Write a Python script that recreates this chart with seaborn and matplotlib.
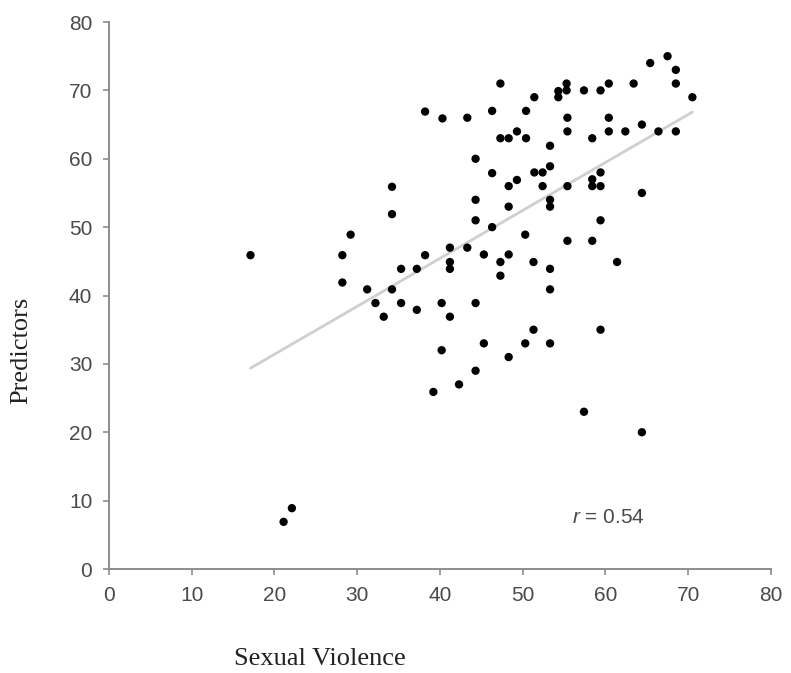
import numpy as np
import pandas as pd
import matplotlib
matplotlib.use("Agg")
import matplotlib.pyplot as plt
import seaborn as sns

# ==========================
# DATOS
# ==========================
sexual_violence = [
    17.1, 21.1, 22.1, 28.2, 28.2, 29.2, 31.2, 32.2, 33.2, 34.2,
    34.2, 34.2, 35.3, 35.3, 37.2, 37.2, 38.2, 38.2, 39.2, 40.3,
    40.2, 40.2, 41.2, 41.2, 41.2, 41.2, 42.3, 43.3, 43.3, 44.3,
    44.3, 44.3, 44.3, 44.3, 45.3, 45.3, 46.3, 46.3, 46.3, 47.3,
    47.3, 47.3, 47.3, 48.3, 48.3, 48.3, 48.3, 48.3, 49.3, 49.3,
    50.4, 50.4, 50.3, 50.3, 51.4, 51.4, 51.3, 51.3, 52.4, 52.4,
    53.3, 53.3, 53.3, 53.3, 53.3, 53.3, 53.3, 54.3, 54.3, 55.3,
    55.3, 55.4, 55.4, 55.4, 55.4, 57.4, 57.4, 58.4, 58.4, 58.4,
    58.4, 59.4, 59.4, 59.4, 59.4, 59.4, 60.4, 60.4, 60.4, 61.4,
    62.4, 63.4, 64.4, 64.4, 64.4, 65.4, 66.4, 67.5, 68.5, 68.5,
    68.5, 70.5,
]
predictors = [
    45.9, 6.9, 8.9, 45.9, 41.9, 48.9, 40.9, 38.9, 36.9, 55.9,
    51.9, 40.9, 43.9, 38.9, 43.9, 37.9, 66.9, 45.9, 25.9, 65.9,
    38.9, 32.0, 47.0, 44.9, 43.9, 36.9, 27.0, 66.0, 47.0, 60.0,
    54.0, 51.0, 38.9, 29.0, 46.0, 33.0, 67.0, 57.9, 50.0, 71.0,
    63.0, 44.9, 42.9, 63.0, 56.0, 53.0, 46.0, 31.0, 64.0, 56.9,
    67.0, 63.0, 48.9, 33.0, 69.0, 58.0, 44.9, 35.0, 58.0, 56.0,
    61.9, 58.9, 54.0, 53.0, 43.9, 40.9, 33.0, 69.9, 69.0, 71.0,
    70.0, 66.0, 64.0, 56.0, 48.0, 70.0, 23.0, 63.0, 57.0, 56.0,
    48.0, 70.0, 58.0, 56.0, 51.0, 35.0, 71.0, 66.0, 64.0, 44.9,
    64.0, 71.0, 65.0, 55.0, 20.0, 74.0, 64.0, 75.0, 73.0, 71.0,
    64.0, 69.0,
]
r_text = "0.54"
ticks = [0, 10, 20, 30, 40, 50, 60, 70, 80]

df = pd.DataFrame({"sexual_violence": sexual_violence, "predictors": predictors})

# ==========================
# ESTILO
# ==========================
sns.set_style("ticks")
plt.rcParams["font.family"] = ["Liberation Sans", "DejaVu Sans"]
plt.rcParams["mathtext.fontset"] = "custom"
plt.rcParams["mathtext.it"] = "Liberation Sans:italic"
plt.rcParams["mathtext.rm"] = "Liberation Sans"

grey_axis = "#8c8c8c"
grey_text = "#4a4a4a"

fig = plt.figure(figsize=(7.91, 6.73), dpi=100)
ax = fig.add_axes([0.1378, 0.1545, 0.8369, 0.8128])

# Recta de regresión (gris claro) y puntos
sns.regplot(data=df, x="sexual_violence", y="predictors", ax=ax, ci=None,
            scatter=False, line_kws={"color": "#cfcfcf", "lw": 2.0})
sns.scatterplot(data=df, x="sexual_violence", y="predictors", ax=ax,
                color="black", s=36, edgecolor="none", zorder=3)

ax.set_xlim(0, 80)
ax.set_ylim(0, 80)
ax.set_xticks(ticks)
ax.set_yticks(ticks)
ax.set_xlabel("")
ax.set_ylabel("")
sns.despine(ax=ax)
for side in ["left", "bottom"]:
    ax.spines[side].set_color(grey_axis)
    ax.spines[side].set_linewidth(1.4)
ax.tick_params(axis="both", colors=grey_axis, length=4.5, width=1.2,
               pad=7.5, labelsize=15, labelcolor=grey_text)

ax.text(55.9, 7.6, r"$r$ = " + r_text, fontsize=15, color=grey_text,
        ha="left", va="center")

# Etiquetas de ejes (tipografía serif)
fig.text(0.0265, 0.48, "Predictors", rotation=90, ha="center", va="center",
         fontsize=19, family=["Liberation Serif", "DejaVu Serif"], color="#222222")
fig.text(0.4046, 0.012, "Sexual Violence", ha="center", va="baseline",
         fontsize=19, family=["Liberation Serif", "DejaVu Serif"], color="#222222")

fig.savefig("out.png", dpi=100)
